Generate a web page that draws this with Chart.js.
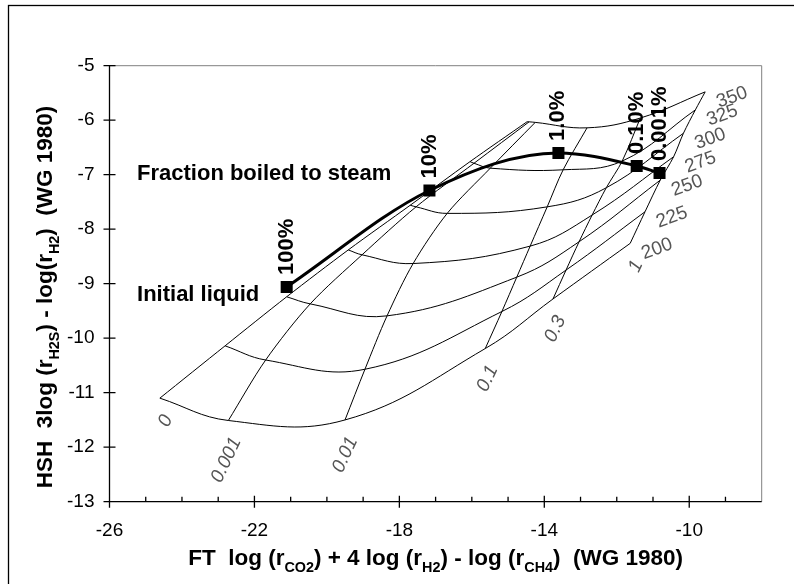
<!DOCTYPE html>
<html>
<head>
<meta charset="utf-8">
<script src="https://cdn.jsdelivr.net/npm/chart.js@4.4.1/dist/chart.umd.min.js"></script>
<style>
  html, body { margin: 0; padding: 0; background: #fff; }
</style>
</head>
<body>
<canvas id="chart" width="794" height="584"></canvas>
<script>
const temperatures = [200, 225, 250, 275, 300, 325, 350];
const fractionLabels = ['0', '0.001', '0.01', '0.1', '0.3', '1'];

// grid nodes, one value per fraction (0 ... 1) on each isotherm
const ft200 = [-24.61, -22.72, -19.50, -15.63, -13.76, -11.63];
const hsh200 = [-11.10, -11.51, -11.50, -10.19, -9.28, -8.26];
const ft225 = [-22.81, -21.69, -18.95, -15.17, -13.40, -11.22];
const hsh225 = [-10.14, -10.40, -10.57, -9.51, -8.75, -7.68];
const ft250 = [-21.11, -20.46, -18.34, -14.76, -13.04, -10.80];
const hsh250 = [-9.24, -9.37, -9.59, -8.88, -8.23, -7.10];
const ft275 = [-19.41, -19.03, -17.62, -14.39, -12.68, -10.43];
const hsh275 = [-8.38, -8.47, -8.63, -8.31, -7.74, -6.67];
const ft300 = [-17.70, -17.54, -16.68, -13.92, -12.29, -10.16];
const hsh300 = [-7.56, -7.59, -7.71, -7.59, -7.24, -6.24];
const ft325 = [-16.05, -15.94, -15.49, -13.48, -11.85, -9.83];
const hsh325 = [-6.76, -6.79, -6.88, -6.91, -6.75, -5.81];
const ft350 = [-14.48, -14.42, -14.25, -12.82, -11.35, -9.56];
const hsh350 = [-6.03, -6.03, -6.04, -6.14, -5.96, -5.48];

// boiling path
const steamLabels = ['100%', '10%', '1.0%', '0.10%', '0.001%'];
const steamFT = [-21.11, -17.17, -13.61, -11.45, -10.82];
const steamHSH = [-9.06, -7.29, -6.60, -6.84, -6.97];

const xTickValues = [-26, -22, -18, -14, -10];
const yTickValues = [-13, -12, -11, -10, -9, -8, -7, -6, -5];

const FONT = '"Liberation Sans", Arial, sans-serif';
const gridFT = [ft200, ft225, ft250, ft275, ft300, ft325, ft350];
const gridHSH = [hsh200, hsh225, hsh250, hsh275, hsh300, hsh325, hsh350];

const datasets = [];
datasets.push({
    data: steamFT.map((x, i) => ({x: x, y: steamHSH[i]})),
    showLine: true,
    borderColor: '#000',
    backgroundColor: '#000',
    borderWidth: 3,
    pointStyle: 'rect',
    pointRadius: 8.5,
    pointBorderWidth: 0,
    cubicInterpolationMode: 'monotone'
});
temperatures.forEach((t, i) => {
    datasets.push({
        data: gridFT[i].map((x, j) => ({x: x, y: gridHSH[i][j]})),
        showLine: true,
        borderColor: '#000',
        borderWidth: 1,
        pointRadius: 0,
        tension: 0.4
    });
});
fractionLabels.forEach((f, j) => {
    datasets.push({
        data: temperatures.map((t, i) => ({x: gridFT[i][j], y: gridHSH[i][j]})),
        showLine: true,
        borderColor: '#000',
        borderWidth: 1,
        pointRadius: 0,
        tension: 0.3
    });
});

function drawParts(ctx, parts, x, y, size) {
    // text with subscripts, centred on x
    const sub = size * 0.64;
    let total = 0;
    parts.forEach(p => {
        ctx.font = 'bold ' + (p[1] ? sub : size) + 'px ' + FONT;
        total += ctx.measureText(p[0]).width;
    });
    let cx = x - total / 2;
    parts.forEach(p => {
        ctx.font = 'bold ' + (p[1] ? sub : size) + 'px ' + FONT;
        ctx.fillText(p[0], cx, p[1] ? y + size * 0.3 : y);
        cx += ctx.measureText(p[0]).width;
    });
}

const decor = {
    id: 'decor',
    beforeDraw(chart) {
        const ctx = chart.ctx;
        ctx.save();
        ctx.fillStyle = '#fff';
        ctx.fillRect(0, 0, chart.width, chart.height);
        ctx.strokeStyle = '#000';
        ctx.lineWidth = 1.3;
        ctx.strokeRect(8.5, 5.5, 800, 600);
        ctx.restore();
    },
    afterDraw(chart) {
        const ctx = chart.ctx;
        const xs = chart.scales.x, ys = chart.scales.y;
        const a = chart.chartArea;
        ctx.save();

        // grey box top/right
        ctx.strokeStyle = '#808080';
        ctx.lineWidth = 1;
        ctx.beginPath();
        ctx.moveTo(a.left, a.top);
        ctx.lineTo(a.right, a.top);
        ctx.lineTo(a.right, a.bottom);
        ctx.stroke();

        // axes and ticks
        ctx.strokeStyle = '#000';
        ctx.lineWidth = 1.3;
        ctx.beginPath();
        ctx.moveTo(a.left, a.top);
        ctx.lineTo(a.left, a.bottom);
        ctx.lineTo(a.right, a.bottom);
        yTickValues.forEach(v => {
            const py = ys.getPixelForValue(v);
            ctx.moveTo(a.left - 6, py);
            ctx.lineTo(a.left + 6, py);
        });
        for (let v = -26; v <= -9; v++) {
            const px = xs.getPixelForValue(v);
            if (xTickValues.includes(v)) {
                ctx.moveTo(px, a.bottom - 6);
                ctx.lineTo(px, a.bottom + 6);
            } else {
                ctx.moveTo(px, a.bottom);
                ctx.lineTo(px, a.bottom - 5);
            }
        }
        ctx.stroke();

        // isotherm labels
        ctx.fillStyle = '#555';
        ctx.font = '19px ' + FONT;
        ctx.textAlign = 'left';
        ctx.textBaseline = 'middle';
        temperatures.forEach((t, i) => {
            const px = xs.getPixelForValue(gridFT[i][5]);
            const py = ys.getPixelForValue(gridHSH[i][5]);
            ctx.save();
            ctx.translate(px + 12, py + 11);
            ctx.rotate(-20 * Math.PI / 180);
            ctx.fillText(String(t), 0, 0);
            ctx.restore();
        });

        // fraction labels
        ctx.font = 'italic 19px ' + FONT;
        ctx.textAlign = 'right';
        fractionLabels.forEach((f, j) => {
            const px = xs.getPixelForValue(gridFT[0][j]);
            const py = ys.getPixelForValue(gridHSH[0][j]);
            ctx.save();
            ctx.translate(px + 8, py + 18);
            ctx.rotate(-65 * Math.PI / 180);
            ctx.fillText(f, 0, 0);
            ctx.restore();
        });

        // boiling path labels
        ctx.fillStyle = '#000';
        ctx.font = 'bold 22px ' + FONT;
        ctx.textAlign = 'left';
        steamLabels.forEach((s, i) => {
            const px = xs.getPixelForValue(steamFT[i]);
            const py = ys.getPixelForValue(steamHSH[i]);
            ctx.save();
            ctx.translate(px, py - 12);
            ctx.rotate(-Math.PI / 2);
            ctx.fillText(s, 0, 0);
            ctx.restore();
        });

        ctx.fillText('Fraction boiled to steam', xs.getPixelForValue(-25.24), ys.getPixelForValue(-6.98));
        ctx.fillText('Initial liquid', xs.getPixelForValue(-25.24), ys.getPixelForValue(-9.21));

        // axis titles
        ctx.textAlign = 'left';
        ctx.textBaseline = 'alphabetic';
        drawParts(ctx, [['FT  log (r', 0], ['CO2', 1], [') + 4 log (r', 0], ['H2', 1],
            [') - log (r', 0], ['CH4', 1], [')  (WG 1980)', 0]], (a.left + a.right) / 2, 565, 22.5);
        ctx.save();
        ctx.translate(52, 297);
        ctx.rotate(-Math.PI / 2);
        drawParts(ctx, [['HSH  3log (r', 0], ['H2S', 1], [') - log(r', 0], ['H2', 1],
            [')  (WG 1980)', 0]], 0, 0, 22.5);
        ctx.restore();

        ctx.restore();
    }
};

Chart.defaults.font.family = FONT;

new Chart(document.getElementById('chart'), {
    type: 'scatter',
    data: {datasets: datasets},
    options: {
        responsive: false,
        animation: false,
        layout: {padding: {top: 65.7, right: 32.3, left: 0, bottom: 0}},
        plugins: {legend: {display: false}, tooltip: {enabled: false}},
        scales: {
            x: {
                type: 'linear',
                min: -26,
                max: -8,
                afterFit: scale => { scale.height = 82.3; },
                afterBuildTicks: scale => { scale.ticks = xTickValues.map(v => ({value: v})); },
                grid: {display: false, drawTicks: false},
                border: {display: false},
                ticks: {font: {size: 19}, color: '#000', padding: 18, maxRotation: 0}
            },
            y: {
                type: 'linear',
                min: -13,
                max: -5,
                afterFit: scale => { scale.width = 109.5; },
                afterBuildTicks: scale => { scale.ticks = yTickValues.map(v => ({value: v})); },
                grid: {display: false, drawTicks: false},
                border: {display: false},
                ticks: {font: {size: 19}, color: '#000', padding: 15}
            }
        }
    },
    plugins: [decor]
});
</script>
</body>
</html>
